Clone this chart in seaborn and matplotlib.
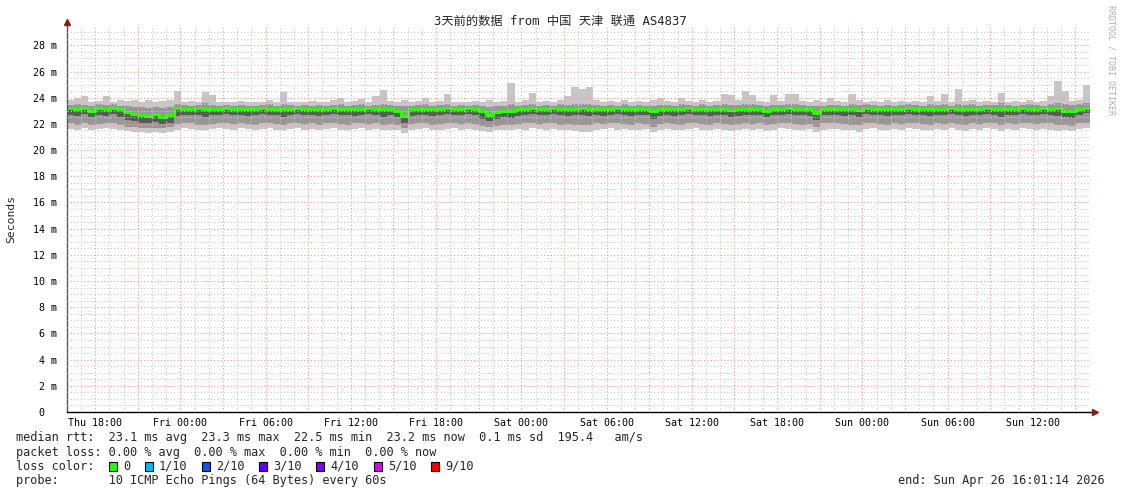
"""
SmokePing style latency chart - 3 days, 中国 天津 联通 AS4837
"""

import numpy as np
import pandas as pd
import matplotlib
matplotlib.use('Agg')
import matplotlib.pyplot as plt
import matplotlib.dates as mdates
from matplotlib.ticker import FuncFormatter, MultipleLocator
from matplotlib.patches import Rectangle
import seaborn as sns

# ========== DATA (ms, one value per 30 min, Thu 16:01 -> Sun 16:01) ==========
rtt_med = [
    23.2, 23.1, 23.2, 23.0, 23.2, 23.1, 23.25, 23.1, 22.9, 22.75, 22.7, 22.6,
    22.75, 22.55, 22.7, 23.2, 23.15, 23.15, 23.2, 23.1, 23.15, 23.15, 23.2, 23.15,
    23.15, 23.1, 23.15, 23.2, 23.15, 23.15, 23.1, 23.15, 23.2, 23.15, 23.15, 23.1,
    23.15, 23.2, 23.15, 23.15, 23.1, 23.15, 23.2, 23.15, 23.1, 23.15, 23.0, 22.6,
    23.1, 23.15, 23.15, 23.1, 23.15, 23.2, 23.15, 23.15, 23.2, 23.15, 22.95, 22.7,
    22.9, 23.0, 22.95, 23.1, 23.15, 23.2, 23.15, 23.15, 23.2, 23.15, 23.1, 23.15,
    23.2, 23.15, 23.15, 23.1, 23.15, 23.2, 23.15, 23.1, 23.15, 23.15, 22.95, 23.1,
    23.15, 23.1, 23.15, 23.2, 23.15, 23.15, 23.1, 23.15, 23.15, 23.05, 23.1, 23.15,
    23.15, 23.15, 23.0, 23.15, 23.15, 23.2, 23.15, 23.15, 23.1, 22.8, 23.15, 23.15,
    23.15, 23.1, 23.15, 23.05, 23.25, 23.15, 23.15, 23.1, 23.15, 23.15, 23.2, 23.15,
    23.15, 23.1, 23.15, 23.15, 23.2, 23.15, 23.1, 23.15, 23.15, 23.2, 23.15, 23.1,
    23.15, 23.15, 23.2, 23.15, 23.15, 23.2, 23.15, 23.2, 23.0, 22.95, 23.15, 23.25,
]
rtt_max = [
    23.8, 24.0, 24.1, 23.7, 23.75, 24.1, 23.7, 23.8, 23.75, 23.8, 23.7, 23.85,
    23.7, 23.75, 23.8, 24.5, 23.7, 23.75, 23.7, 24.4, 24.2, 23.7, 23.65, 23.7,
    23.75, 23.7, 23.65, 23.7, 23.8, 23.7, 24.4, 23.7, 23.65, 23.7, 23.75, 23.7,
    23.7, 23.8, 24.0, 23.7, 23.75, 23.9, 23.7, 24.1, 24.6, 23.75, 23.7, 23.8,
    23.7, 23.75, 24.0, 23.7, 23.75, 24.3, 23.7, 23.7, 23.65, 23.75, 23.7, 23.8,
    23.7, 23.75, 25.1, 23.7, 23.8, 24.35, 23.7, 23.75, 23.7, 23.8, 24.1, 24.8,
    24.7, 24.8, 23.8, 23.7, 23.75, 23.7, 23.8, 23.7, 23.75, 23.7, 23.8, 24.0,
    23.75, 23.7, 24.0, 23.75, 23.7, 23.8, 23.7, 23.75, 24.3, 24.2, 23.8, 24.5,
    24.2, 23.75, 23.7, 24.2, 23.75, 24.3, 24.3, 23.75, 23.7, 23.8, 23.7, 24.0,
    23.75, 23.7, 24.3, 23.8, 23.7, 23.75, 23.7, 23.8, 23.7, 23.75, 23.7, 23.75,
    23.7, 24.1, 23.75, 24.3, 23.7, 24.7, 23.75, 23.8, 23.7, 23.75, 23.7, 24.35,
    23.7, 23.75, 23.7, 23.8, 23.7, 23.75, 24.1, 25.3, 24.5, 23.75, 23.8, 25.0,
]
rtt_p80 = [
    23.45, 23.5, 23.45, 23.4, 23.5, 23.45, 23.5, 23.4, 23.35, 23.3, 23.3, 23.25,
    23.3, 23.25, 23.3, 23.5, 23.45, 23.4, 23.45, 23.6, 23.45, 23.4, 23.45, 23.4,
    23.45, 23.4, 23.4, 23.45, 23.5, 23.4, 23.5, 23.45, 23.4, 23.45, 23.4, 23.45,
    23.4, 23.45, 23.5, 23.4, 23.45, 23.5, 23.4, 23.45, 23.55, 23.45, 23.4, 23.35,
    23.4, 23.45, 23.5, 23.4, 23.45, 23.5, 23.4, 23.45, 23.4, 23.45, 23.35, 23.3,
    23.35, 23.4, 23.55, 23.4, 23.45, 23.5, 23.4, 23.45, 23.4, 23.5, 23.45, 23.55,
    23.5, 23.55, 23.45, 23.4, 23.45, 23.4, 23.5, 23.4, 23.45, 23.4, 23.35, 23.45,
    23.45, 23.4, 23.5, 23.45, 23.4, 23.5, 23.4, 23.45, 23.5, 23.45, 23.45, 23.55,
    23.5, 23.45, 23.4, 23.45, 23.45, 23.5, 23.5, 23.45, 23.4, 23.35, 23.4, 23.45,
    23.45, 23.4, 23.5, 23.45, 23.5, 23.45, 23.4, 23.45, 23.4, 23.45, 23.5, 23.45,
    23.4, 23.5, 23.45, 23.5, 23.4, 23.55, 23.45, 23.5, 23.4, 23.45, 23.45, 23.6,
    23.45, 23.4, 23.45, 23.5, 23.45, 23.4, 23.5, 23.6, 23.55, 23.45, 23.5, 23.6,
]
rtt_p40 = [
    22.7, 22.6, 22.75, 22.5, 22.7, 22.6, 22.75, 22.55, 22.3, 22.2, 22.1, 22.05,
    22.15, 22.0, 22.1, 22.6, 22.7, 22.65, 22.7, 22.5, 22.65, 22.7, 22.75, 22.65,
    22.7, 22.6, 22.7, 22.75, 22.65, 22.7, 22.55, 22.7, 22.75, 22.65, 22.7, 22.6,
    22.7, 22.75, 22.65, 22.7, 22.6, 22.7, 22.75, 22.65, 22.55, 22.7, 22.5, 22.1,
    22.6, 22.7, 22.65, 22.6, 22.7, 22.75, 22.65, 22.7, 22.75, 22.65, 22.4, 22.2,
    22.4, 22.5, 22.45, 22.6, 22.7, 22.75, 22.65, 22.7, 22.75, 22.65, 22.6, 22.65,
    22.7, 22.6, 22.65, 22.6, 22.7, 22.75, 22.65, 22.6, 22.7, 22.65, 22.35, 22.6,
    22.7, 22.6, 22.65, 22.75, 22.7, 22.65, 22.6, 22.7, 22.65, 22.5, 22.6, 22.65,
    22.7, 22.65, 22.5, 22.7, 22.65, 22.75, 22.7, 22.65, 22.6, 22.3, 22.65, 22.7,
    22.7, 22.6, 22.65, 22.55, 22.75, 22.7, 22.65, 22.6, 22.7, 22.65, 22.75, 22.7,
    22.65, 22.6, 22.7, 22.65, 22.75, 22.7, 22.6, 22.65, 22.7, 22.75, 22.65, 22.5,
    22.7, 22.65, 22.75, 22.7, 22.65, 22.75, 22.7, 22.6, 22.5, 22.45, 22.65, 22.8,
]
rtt_p20 = [
    22.05, 21.95, 22.1, 21.9, 22.0, 22.05, 22.1, 21.95, 21.8, 21.75, 21.7, 21.65,
    21.7, 21.65, 21.75, 22.0, 22.1, 22.05, 21.95, 21.9, 22.0, 22.1, 22.05, 22.0,
    22.1, 22.0, 21.95, 22.05, 22.1, 22.0, 21.9, 22.05, 22.1, 22.0, 22.05, 21.95,
    22.05, 22.1, 22.0, 21.95, 22.05, 22.1, 22.0, 22.05, 21.9, 22.0, 21.95, 21.7,
    22.0, 22.1, 22.05, 21.95, 22.0, 22.1, 22.05, 22.0, 22.1, 22.0, 21.85, 21.75,
    21.85, 21.95, 21.9, 22.0, 22.05, 22.1, 22.0, 22.05, 22.1, 21.95, 22.0, 21.95,
    21.9, 21.95, 22.05, 22.0, 22.1, 22.05, 22.0, 21.95, 22.05, 22.0, 21.8, 22.0,
    22.05, 22.0, 21.95, 22.05, 22.1, 22.0, 21.95, 22.05, 22.0, 21.9, 22.0, 22.05,
    22.0, 22.05, 21.9, 22.0, 22.1, 22.05, 22.0, 21.95, 22.0, 21.8, 22.05, 22.1,
    22.05, 22.0, 21.95, 21.9, 22.05, 22.1, 22.0, 21.95, 22.05, 22.0, 22.1, 22.05,
    22.0, 21.95, 22.05, 22.0, 22.1, 22.0, 21.95, 22.05, 22.0, 22.1, 22.05, 21.9,
    22.05, 22.0, 22.1, 22.05, 22.0, 22.1, 22.05, 21.95, 21.9, 21.85, 22.05, 22.1,
]
rtt_min = [
    21.6, 21.5, 21.65, 21.55, 21.6, 21.7, 21.6, 21.5, 21.45, 21.4, 21.35, 21.3,
    21.35, 21.3, 21.4, 21.55, 21.65, 21.6, 21.5, 21.55, 21.6, 21.65, 21.6, 21.55,
    21.65, 21.6, 21.5, 21.6, 21.65, 21.55, 21.5, 21.6, 21.65, 21.55, 21.6, 21.5,
    21.6, 21.65, 21.55, 21.5, 21.6, 21.65, 21.55, 21.6, 21.5, 21.55, 21.5, 21.3,
    21.55, 21.6, 21.65, 21.5, 21.55, 21.6, 21.65, 21.55, 21.6, 21.55, 21.45, 21.4,
    21.5, 21.55, 21.5, 21.6, 21.55, 21.65, 21.6, 21.5, 21.6, 21.55, 21.5, 21.45,
    21.35, 21.4, 21.55, 21.6, 21.65, 21.55, 21.6, 21.5, 21.55, 21.6, 21.35, 21.55,
    21.6, 21.55, 21.5, 21.6, 21.65, 21.55, 21.5, 21.6, 21.55, 21.45, 21.55, 21.6,
    21.55, 21.6, 21.45, 21.55, 21.65, 21.6, 21.55, 21.5, 21.6, 21.4, 21.55, 21.6,
    21.6, 21.5, 21.55, 21.4, 21.6, 21.65, 21.55, 21.5, 21.6, 21.55, 21.65, 21.6,
    21.55, 21.5, 21.6, 21.55, 21.65, 21.5, 21.45, 21.6, 21.55, 21.65, 21.6, 21.45,
    21.6, 21.55, 21.65, 21.6, 21.5, 21.6, 21.55, 21.45, 21.5, 21.45, 21.6, 21.65,
]

start_time = '2026-04-23 16:01:14'
title = '3天前的数据 from 中国 天津 联通 AS4837'
loss_labels = ['0', '1/10', '2/10', '3/10', '4/10', '5/10', '9/10']
loss_colors = ['#26ff00', '#00b8ff', '#0059ff', '#5e00ff', '#7e00ff', '#dd00ff', '#ff0000']
info_lines = [
    'median rtt:  23.1 ms avg  23.3 ms max  22.5 ms min  23.2 ms now  0.1 ms sd  195.4   am/s',
    'packet loss: 0.00 % avg  0.00 % max  0.00 % min  0.00 % now',
    'loss color:',
    'probe:       10 ICMP Echo Pings (64 Bytes) every 60s',
]
end_text = 'end: Sun Apr 26 16:01:14 2026'

# ========== SETUP ==========
W, H = 1121, 494
sns.set_style('white')
plt.rcParams['font.family'] = ['DejaVu Sans Mono', 'Noto Sans CJK SC']

times = pd.date_range(start_time, periods=len(rtt_med) + 1, freq='30min')
x = mdates.date2num(times.to_pydatetime())


def ext(a):
    # repeat last value so steps-post covers the final interval
    return np.append(a, a[-1])


fig = plt.figure(figsize=(W / 100, H / 100), dpi=100)
ax = fig.add_axes([67 / W, (H - 412) / H, (1090 - 67) / W, (412 - 27) / H])

# smoke bands
ax.fill_between(x, ext(rtt_min), ext(rtt_max), step='post', color='#c6c6c6', lw=0)
ax.fill_between(x, ext(rtt_p20), ext(rtt_p80), step='post', color='#979797', lw=0)
ax.fill_between(x, ext(rtt_p40), ext(rtt_med), step='post', color='#5a5a5a', lw=0)

# median line, coloured by loss (all 0 here)
sns.lineplot(x=x, y=ext(rtt_med), drawstyle='steps-post', color=loss_colors[0],
             lw=2.2, ax=ax, estimator=None)

ax.set_xlim(x[0], x[-1])
ax.set_ylim(0, 29.4)

# grid
ax.xaxis.set_major_locator(mdates.HourLocator(byhour=range(0, 24, 3)))
ax.xaxis.set_minor_locator(mdates.HourLocator())
ax.xaxis.set_major_formatter(FuncFormatter(
    lambda v, p: mdates.num2date(v).strftime('%a %H:%M') if mdates.num2date(v).hour % 6 == 0 else ''))
ax.yaxis.set_major_locator(MultipleLocator(2))
ax.yaxis.set_minor_locator(MultipleLocator(0.5))
ax.yaxis.set_major_formatter(FuncFormatter(lambda v, p: '0  ' if v == 0 else f'{v:.0f} m'))

ax.grid(which='minor', color='#cccccc', ls=(0, (1, 2)), lw=0.8)
ax.grid(which='major', color='#f29a9a', ls=(0, (1, 2)), lw=0.8)
ax.set_axisbelow(False)

ax.tick_params(axis='x', which='both', length=0, pad=4, labelsize=7.2, colors='black')
ax.tick_params(axis='y', which='major', length=2, pad=5, labelsize=7.2, colors='black')
ax.tick_params(axis='y', which='minor', length=0)
ax.set_xlabel('')
ax.set_ylabel('')

for s in ['top', 'right']:
    ax.spines[s].set_visible(False)
ax.spines['left'].set_color('#555555')
ax.spines['bottom'].set_color('#000000')
ax.spines['left'].set_linewidth(1)
ax.spines['bottom'].set_linewidth(1)

# axis extensions + arrows
ax.plot([0, 0], [1, 1.012], transform=ax.transAxes, clip_on=False, color='#555555', lw=1)
ax.plot([1, 1.004], [0, 0], transform=ax.transAxes, clip_on=False, color='#000000', lw=1)
ax.plot(0, 1.013, marker='^', ms=4, color='#8b1a1a', transform=ax.transAxes, clip_on=False)
ax.plot(1.005, 0, marker='>', ms=4, color='#8b1a1a', transform=ax.transAxes, clip_on=False)


def ftext(px, py, s, **kw):
    fig.text(px / W, 1 - py / H, s, **kw)


ftext(560, 21, title, ha='center', va='center', fontsize=8.8)
ftext(11, 219, 'Seconds', rotation=90, ha='center', va='center', fontsize=8.2)
ftext(1111, 5, 'RRDTOOL / TOBI OETIKER', rotation=270, ha='center', va='top',
      fontsize=6, color='#b0b0b0')

# ========== LEGEND / INFO TEXT ==========
cw = 7.15  # monospace character width in px
line_y = [437, 452, 466, 480]
for s, yy in zip(info_lines, line_y):
    ftext(16, yy, s, va='center', fontsize=8.55)
ftext(1105, 480, end_text, ha='right', va='center', fontsize=8.55)

idx = 13
for lab, col in zip(loss_labels, loss_colors):
    px = 16 + idx * cw
    fig.add_artist(Rectangle((px / W, (H - 466 - 4.5) / H), 8 / W, 9 / H,
                             transform=fig.transFigure, facecolor=col,
                             edgecolor='black', lw=0.8))
    ftext(16 + (idx + 2) * cw, 466, lab, va='center', fontsize=8.55)
    idx = idx + 2 + len(lab) + 2

plt.savefig('out.png', dpi=100)
print("saved out.png")
